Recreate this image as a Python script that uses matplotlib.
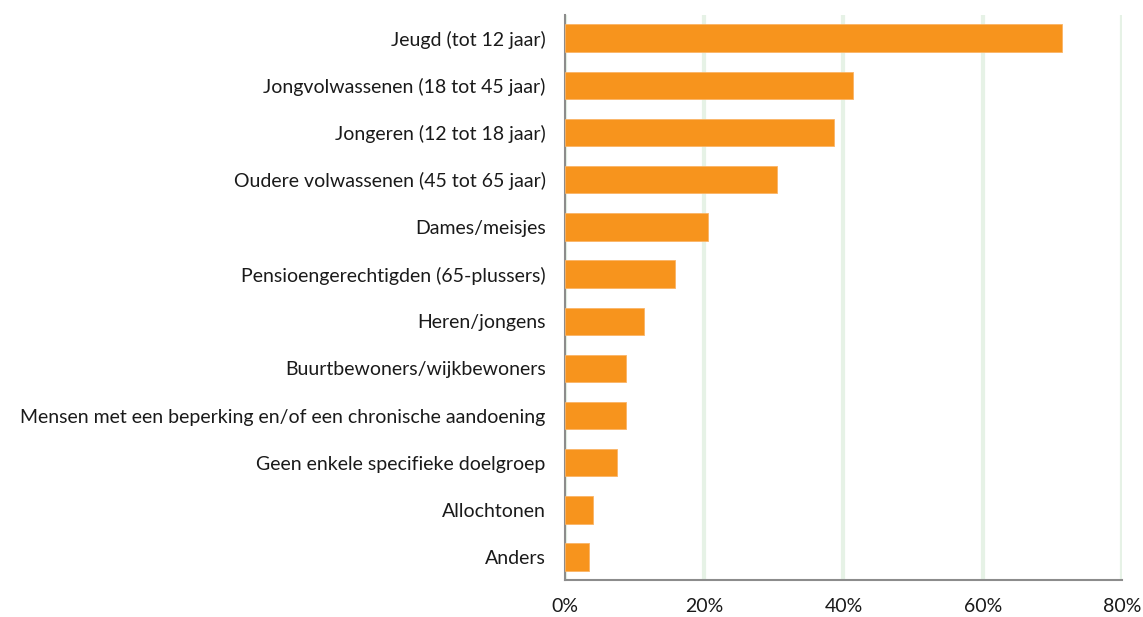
import matplotlib.pyplot as plt
import numpy as np
from matplotlib.ticker import FuncFormatter

labels = [
    "Jeugd (tot 12 jaar)",
    "Jongvolwassenen (18 tot 45 jaar)",
    "Jongeren (12 tot 18 jaar)",
    "Oudere volwassenen (45 tot 65 jaar)",
    "Dames/meisjes",
    "Pensioengerechtigden (65-plussers)",
    "Heren/jongens",
    "Buurtbewoners/wijkbewoners",
    "Mensen met een beperking en/of een chronische aandoening",
    "Geen enkele specifieke doelgroep",
    "Allochtonen",
    "Anders",
]
values = [71.4, 41.4, 38.7, 30.5, 20.5, 15.8, 11.4, 8.8, 8.8, 7.4, 4.0, 3.5]
xticks = [0, 20, 40, 60, 80]

plt.rcParams['font.family'] = ['Lato', 'DejaVu Sans']

fig = plt.figure(figsize=(11.43, 6.17), dpi=100)
ax = fig.add_axes([0.4943, 0.0595, 0.4873, 0.9162])

y = np.arange(len(labels))
ax.barh(y, values, height=0.58, color='#F7941D', edgecolor='#FBB466', linewidth=0.6, zorder=3)

ax.set_xlim(0, 80)
ax.set_ylim(len(labels) - 0.51, -0.49)
ax.set_yticks(y)
ax.set_yticklabels(labels, fontsize=14, color='#1a1a1a')
ax.set_xticks(xticks)
ax.xaxis.set_major_formatter(FuncFormatter(lambda v, p: f"{v:.0f}%"))
ax.tick_params(axis='x', length=0, pad=13, labelsize=14, labelcolor='#1a1a1a')
ax.tick_params(axis='y', length=0, pad=14)

ax.grid(axis='x', color='#E6F2E6', linewidth=3, zorder=0)
for s in ['top', 'right']:
    ax.spines[s].set_visible(False)
for s in ['left', 'bottom']:
    ax.spines[s].set_color('#8c8c8c')
    ax.spines[s].set_linewidth(1.5)

fig.savefig('out.png', dpi=100)
